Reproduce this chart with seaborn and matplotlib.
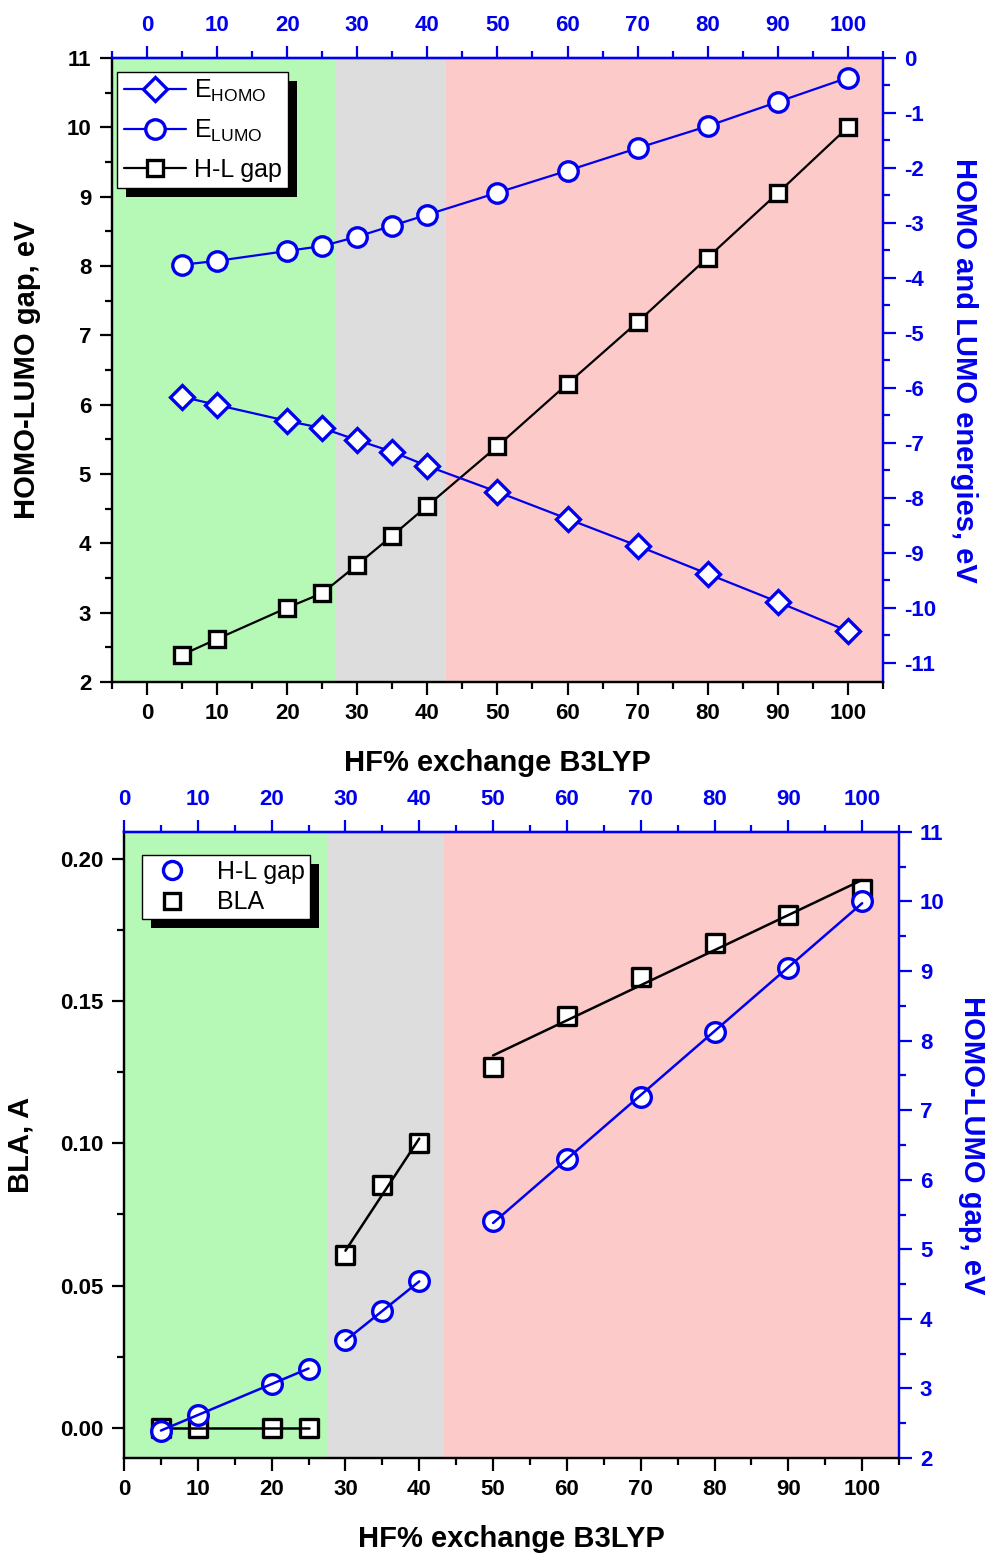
import numpy as np
import pandas as pd
import matplotlib
matplotlib.use("Agg")
import matplotlib.pyplot as plt
import seaborn as sns
from matplotlib.ticker import MultipleLocator
from matplotlib.patches import Rectangle
from matplotlib.transforms import IdentityTransform

sns.set_theme(style="ticks")
plt.rcParams['font.family'] = ['Liberation Sans', 'DejaVu Sans']
plt.rcParams['mathtext.fontset'] = 'custom'
plt.rcParams['mathtext.rm'] = 'Liberation Sans'
plt.rcParams['axes.unicode_minus'] = False
for k in ['text.color', 'axes.labelcolor', 'xtick.color', 'ytick.color', 'axes.edgecolor']:
    plt.rcParams[k] = 'black'

# ---------------- data ----------------
hf = [5, 10, 20, 25, 30, 35, 40, 50, 60, 70, 80, 90, 100]
hl_gap = [2.39, 2.62, 3.07, 3.28, 3.69, 4.11, 4.54, 5.40, 6.30, 7.19, 8.12, 9.05, 10.00]
e_homo = [-6.16, -6.31, -6.60, -6.73, -6.95, -7.16, -7.42, -7.89, -8.38, -8.87, -9.38, -9.89, -10.42]
e_lumo = [-3.76, -3.69, -3.51, -3.42, -3.25, -3.05, -2.85, -2.45, -2.05, -1.64, -1.24, -0.80, -0.36]
bla = [0.000, 0.000, 0.000, 0.000, 0.0606, 0.0852, 0.1000, 0.1268, 0.1447, 0.1585, 0.1704, 0.1803, 0.1894]
groups = ["low", "low", "low", "low", "mid", "mid", "mid", "high", "high", "high", "high", "high", "high"]

regions_top = [(-5, 27.0, '#B6F9B6'), (27.0, 42.6, '#DDDDDD'), (42.6, 105, '#FDCACA')]
regions_bot = [(0, 27.6, '#B6F9B6'), (27.6, 43.4, '#DDDDDD'), (43.4, 105, '#FDCACA')]

df = pd.DataFrame({"hf": hf, "gap": hl_gap, "homo": e_homo, "lumo": e_lumo,
                   "bla": bla, "grp": groups})

BLUE = '#0000EE'
TICKFS = 16
LABFS = 21
LEGFS = 18

fig = plt.figure(figsize=(9.92, 15.53), dpi=100)
ax1 = fig.add_axes([0.1129, 0.5609, 0.890 - 0.1129, 0.9627 - 0.5609])
ax3 = fig.add_axes([0.125, 0.0612, 0.9063 - 0.125, 0.4643 - 0.0612])


def style_axes(ax, axr, xlim):
    for a in (ax, axr):
        a.set_xlim(*xlim)
        for s in a.spines.values():
            s.set_linewidth(1.6)
        a.spines['left'].set_color('black')
        a.spines['bottom'].set_color('black')
        a.spines['right'].set_color(BLUE)
        a.spines['top'].set_color(BLUE)
    ax.xaxis.set_major_locator(MultipleLocator(10))
    ax.xaxis.set_minor_locator(MultipleLocator(5))
    ax.tick_params(axis='both', which='major', direction='out', length=9, width=1.6,
                   labelsize=TICKFS, color='black', labelcolor='black', pad=6)
    ax.tick_params(axis='both', which='minor', direction='out', length=5, width=1.6, color='black')
    axr.tick_params(axis='y', which='major', direction='out', length=9, width=1.6,
                    labelsize=TICKFS, color=BLUE, labelcolor=BLUE, pad=6)
    axr.tick_params(axis='y', which='minor', direction='out', length=5, width=1.6, color=BLUE)
    for lab in ax.get_xticklabels() + ax.get_yticklabels() + axr.get_yticklabels():
        lab.set_fontweight('bold')
    sec = ax.secondary_xaxis('top')
    sec.xaxis.set_major_locator(MultipleLocator(10))
    sec.xaxis.set_minor_locator(MultipleLocator(5))
    sec.spines['top'].set_color(BLUE)
    sec.spines['top'].set_linewidth(1.6)
    sec.tick_params(axis='x', which='major', direction='out', length=9, width=1.6,
                    labelsize=TICKFS, color=BLUE, labelcolor=BLUE, pad=7)
    sec.tick_params(axis='x', which='minor', direction='out', length=5, width=1.6, color=BLUE)
    for lab in sec.get_xticklabels():
        lab.set_fontweight('bold')
    ax.set_xlabel('HF% exchange B3LYP', fontsize=LABFS, fontweight='bold', labelpad=18, color='black')
    return sec


def add_shadow(ax_host, leg, off=9):
    fig.canvas.draw()
    bb = leg.get_frame().get_window_extent()
    r = Rectangle((bb.x0 + off, bb.y0 - off), bb.width, bb.height, transform=IdentityTransform(),
                  facecolor='black', edgecolor='none', zorder=4.5)
    r.set_clip_on(False)
    ax_host.add_artist(r)


# ---------------- top panel ----------------
for x0, x1, c in regions_top:
    ax1.axvspan(x0, x1, color=c, lw=0, zorder=0)
ax2 = ax1.twinx()

l_gap, = ax1.plot(hf, hl_gap, color='black', lw=1.6, marker='s', ms=11, mfc='white',
                  mec='black', mew=2.4, zorder=3, label='H-L gap')
l_homo, = ax2.plot(hf, e_homo, color=BLUE, lw=1.6, marker='D', ms=12, mfc='white',
                   mec=BLUE, mew=2.4, zorder=3, label=r'E$_{\mathrm{HOMO}}$')
l_lumo, = ax2.plot(hf, e_lumo, color=BLUE, lw=1.6, marker='o', ms=14, mfc='white',
                   mec=BLUE, mew=2.4, zorder=3, label=r'E$_{\mathrm{LUMO}}$')

ax1.set_ylim(2, 11)
ax1.yaxis.set_major_locator(MultipleLocator(1))
ax1.yaxis.set_minor_locator(MultipleLocator(0.5))
ax2.set_ylim(-11.345, 0)
ax2.yaxis.set_major_locator(MultipleLocator(1))
ax2.yaxis.set_minor_locator(MultipleLocator(0.5))
style_axes(ax1, ax2, (-5, 105))
ax1.set_ylabel('HOMO-LUMO gap, eV', fontsize=LABFS, fontweight='bold', labelpad=18, color='black')
ax2.set_ylabel('HOMO and LUMO energies, eV', fontsize=LABFS, fontweight='bold',
               color=BLUE, rotation=-90, labelpad=30)

leg1 = ax2.legend(handles=[l_homo, l_lumo, l_gap], loc='upper left', bbox_to_anchor=(0.007, 0.978),
                  fontsize=LEGFS, frameon=True, fancybox=False, framealpha=1, edgecolor='black',
                  handlelength=2.5, handletextpad=0.3, borderpad=0.25, labelspacing=0.55,
                  borderaxespad=0)
leg1.get_frame().set_linewidth(1.0)
leg1.set_zorder(5)

# ---------------- bottom panel ----------------
for x0, x1, c in regions_bot:
    ax3.axvspan(x0, x1, color=c, lw=0, zorder=0)
ax4 = ax3.twinx()

sns.scatterplot(data=df, x='hf', y='bla', ax=ax3, marker='s', s=170, color='white',
                edgecolor='black', linewidth=2.4, zorder=2, legend=False)
sns.scatterplot(data=df, x='hf', y='gap', ax=ax4, marker='o', s=200, color='white',
                edgecolor=BLUE, linewidth=2.4, zorder=2, legend=False)

for g in ["low", "mid", "high"]:
    sub = df[df.grp == g]
    xs = np.array([sub.hf.min(), sub.hf.max()])
    pb = np.polyfit(sub.hf, sub.bla, 1)
    ax3.plot(xs, np.polyval(pb, xs), color='black', lw=1.8, zorder=3)
    pg = np.polyfit(sub.hf, sub.gap, 1)
    ax4.plot(xs, np.polyval(pg, xs), color=BLUE, lw=1.8, zorder=3)

ax3.set_ylim(-0.0106, 0.2094)
ax3.yaxis.set_major_locator(MultipleLocator(0.05))
ax3.yaxis.set_minor_locator(MultipleLocator(0.025))
ax3.yaxis.set_major_formatter(matplotlib.ticker.FormatStrFormatter('%.2f'))
ax4.set_ylim(2, 11)
ax4.yaxis.set_major_locator(MultipleLocator(1))
ax4.yaxis.set_minor_locator(MultipleLocator(0.5))
ax3.set_xlabel('')
ax3.set_ylabel('')
ax4.set_ylabel('')
style_axes(ax3, ax4, (0, 105))
ax3.set_ylabel('BLA, A', fontsize=LABFS, fontweight='bold', labelpad=18, color='black')
ax4.set_ylabel('HOMO-LUMO gap, eV', fontsize=LABFS, fontweight='bold',
               color=BLUE, rotation=-90, labelpad=30)

h_gap = plt.Line2D([], [], ls='none', marker='o', ms=13, mfc='white', mec=BLUE, mew=2.4, label='H-L gap')
h_bla = plt.Line2D([], [], ls='none', marker='s', ms=11, mfc='white', mec='black', mew=2.4, label='BLA')
leg2 = ax4.legend(handles=[h_gap, h_bla], loc='upper left', bbox_to_anchor=(0.023, 0.963),
                  fontsize=LEGFS, frameon=True, fancybox=False, framealpha=1, edgecolor='black',
                  handlelength=2.0, handletextpad=0.8, borderpad=0.2, labelspacing=0.25,
                  borderaxespad=0)
leg2.get_frame().set_linewidth(1.0)
leg2.set_zorder(5)

add_shadow(ax2, leg1)
add_shadow(ax4, leg2)

fig.savefig('out.png', dpi=100)
